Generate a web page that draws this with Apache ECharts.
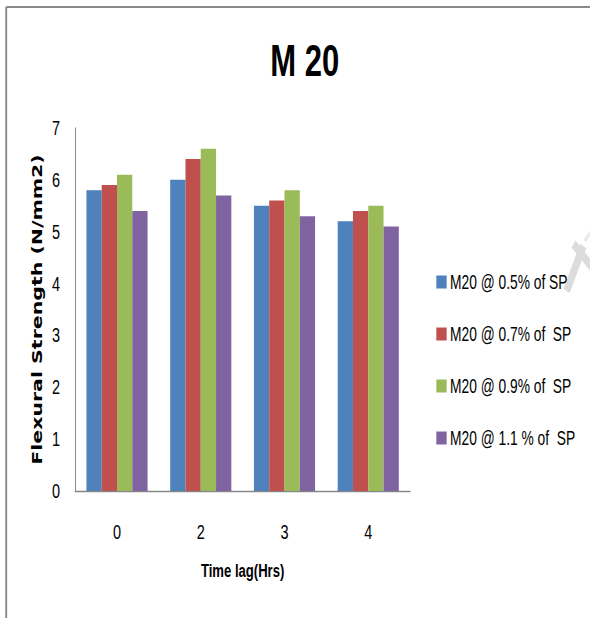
<!DOCTYPE html>
<html>
<head>
<meta charset="utf-8">
<script src="https://cdn.jsdelivr.net/npm/echarts@6/dist/echarts.min.js"></script>
<style>
  html, body { margin: 0; padding: 0; background: #fff; overflow: hidden; }
  #frame { width: 590px; height: 618px; overflow: hidden; }
  /* the chart is laid out wide and narrowed to the page width */
  #chart { width: 856px; height: 618px; transform: scaleX(0.6893); transform-origin: 0 0; }
</style>
</head>
<body>
<div id="frame"><div id="chart"></div></div>
<script>
// Flexural strength of M20 concrete against time lag, per superplasticizer dosage
const timeLags = ['0', '2', '3', '4'];
const seriesNames = ['M20 @ 0.5% of SP', 'M20 @ 0.7% of  SP', 'M20 @ 0.9% of  SP', 'M20 @ 1.1 % of  SP'];
const sp05 = [5.8, 6.0, 5.5, 5.2];
const sp07 = [5.9, 6.4, 5.6, 5.4];
const sp09 = [6.1, 6.6, 5.8, 5.5];
const sp11 = [5.4, 5.7, 5.3, 5.1];
const yTicks = [0, 1, 2, 3, 4, 5, 6, 7];

const colors = ['#4F81BD', '#C0504D', '#9BBB59', '#8064A2'];
const sans = '"Liberation Sans", Arial, sans-serif';

const chart = echarts.init(document.getElementById('chart'), null, { renderer: 'svg' });

chart.setOption({
  animation: false,
  color: colors,
  title: {
    text: 'M 20',
    left: 437,
    top: 33,
    textAlign: 'center',
    textStyle: { fontFamily: sans, fontSize: 45, fontWeight: 'bold', color: '#000' }
  },
  grid: { left: 109, right: 261, top: 128, bottom: 127 },
  legend: {
    orient: 'vertical',
    left: 628,
    top: 267,
    itemWidth: 15,
    itemHeight: 13,
    itemGap: 32,
    itemTextGap: 4,
    icon: 'rect',
    itemStyle: { borderWidth: 0 },
    textStyle: { fontFamily: sans, fontSize: 20, color: '#000' },
    data: seriesNames
  },
  xAxis: {
    type: 'category',
    data: timeLags,
    name: 'Time lag(Hrs)',
    nameLocation: 'middle',
    nameGap: 69,
    nameTextStyle: { fontFamily: sans, fontSize: 19, fontWeight: 'bold', color: '#000' },
    axisLine: { lineStyle: { color: '#868686', width: 1.4 } },
    axisTick: { show: false },
    axisLabel: { fontFamily: sans, fontSize: 21, color: '#000', margin: 30 }
  },
  yAxis: {
    type: 'value',
    min: yTicks[0],
    max: yTicks[yTicks.length - 1],
    interval: 1,
    name: 'Flexural Strength (N/mm2)',
    nameLocation: 'middle',
    nameGap: 41,
    nameTextStyle: { fontFamily: '"DejaVu Sans", sans-serif', fontSize: 20.5, fontWeight: 'bold', color: '#000' },
    axisLine: { show: true, lineStyle: { color: '#868686', width: 1.4 } },
    axisTick: { show: false },
    splitLine: { show: false },
    axisLabel: { fontFamily: sans, fontSize: 21, color: '#000', margin: 22 }
  },
  series: [sp05, sp07, sp09, sp11].map((vals, i) => ({
    name: seriesNames[i],
    type: 'bar',
    data: vals,
    barGap: '0%',
    barCategoryGap: '27%'
  })),
  graphic: [
    // page frame
    { type: 'line', shape: { x1: 9, y1: 7, x2: 856, y2: 7 }, style: { stroke: '#8a8a8a', lineWidth: 2 }, silent: true },
    { type: 'line', shape: { x1: 9, y1: 7, x2: 9, y2: 618 }, style: { stroke: '#8a8a8a', lineWidth: 2.8 }, silent: true },
    // faint stamp mark at the right edge
    { type: 'line', shape: { x1: 822, y1: 291, x2: 846, y2: 246 }, style: { stroke: '#dcdcdc', lineWidth: 10, lineCap: 'butt' }, silent: true },
    { type: 'line', shape: { x1: 832, y1: 244, x2: 860, y2: 268 }, style: { stroke: '#dcdcdc', lineWidth: 9, lineCap: 'butt' }, silent: true },
    { type: 'line', shape: { x1: 848, y1: 241, x2: 858, y2: 231 }, style: { stroke: '#ececec', lineWidth: 4, lineCap: 'butt' }, silent: true }
  ]
});
</script>
</body>
</html>
